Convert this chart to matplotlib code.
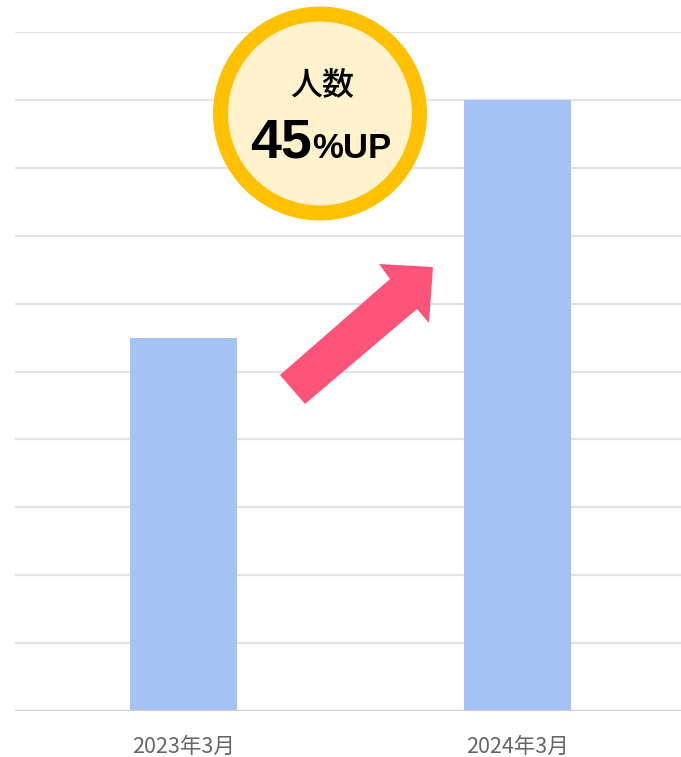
import numpy as np
import matplotlib.pyplot as plt
from matplotlib.patches import Circle, Polygon
from matplotlib.transforms import IdentityTransform

plt.rcParams['font.family'] = ['Noto Sans CJK JP', 'DejaVu Sans']

# データ
categories = ['2023年3月', '2024年3月']
values = [55, 90]
grid_ticks = np.arange(0, 101, 10)

W, H = 681, 757


def px(x, y):
    # 上からのピクセル座標 -> 下からのピクセル座標
    return (x, H - y)


def main():
    fig = plt.figure(figsize=(W / 100, H / 100), dpi=100)
    ax = fig.add_axes([15 / W, (H - 711) / H, 666 / W, 679 / H])

    x = np.arange(len(categories))
    ax.bar(x, values, width=0.32, color='#a4c2f4', zorder=2)
    ax.set_xlim(-0.505, 1.49)
    ax.set_ylim(0, 100)
    ax.set_yticks(grid_ticks)
    ax.set_yticklabels([])
    ax.grid(axis='y', color='#e3e3e3', linewidth=1.6, zorder=0)
    ax.axhline(0, color='#d0d0d0', linewidth=1.6, zorder=3)
    ax.set_xticks(x)
    ax.set_xticklabels(categories, fontsize=15.5, color='#666666')
    ax.tick_params(axis='both', length=0, pad=18)
    for s in ax.spines.values():
        s.set_visible(False)

    # 矢印
    ident = IdentityTransform()
    arrow_pts = [px(280, 375), px(390, 279), px(379, 264), px(433, 267),
                 px(429, 323), px(417, 309), px(305, 404)]
    fig.add_artist(Polygon(arrow_pts, closed=True, transform=ident,
                           facecolor='#ff5479', edgecolor='none', zorder=5))

    # 円のバッジ
    fig.add_artist(Circle(px(320, 113.5), 99.5, transform=ident,
                          facecolor='#fff2cc', edgecolor='#ffc000',
                          linewidth=15 * 0.72, zorder=6))
    fig.text(*px(322, 85), '人数', transform=ident, ha='center', va='center',
             fontsize=23, color='black', fontweight='medium', zorder=7)
    fig.text(*px(312, 158), '45', transform=ident, ha='right', va='baseline',
             fontsize=40, fontweight='bold', family='Liberation Sans',
             color='black', zorder=7)
    fig.text(*px(312, 158), '%UP', transform=ident, ha='left', va='baseline',
             fontsize=25, fontweight='bold', family='Liberation Sans',
             color='black', zorder=7)

    fig.savefig('out.png', dpi=100)


if __name__ == "__main__":
    main()
